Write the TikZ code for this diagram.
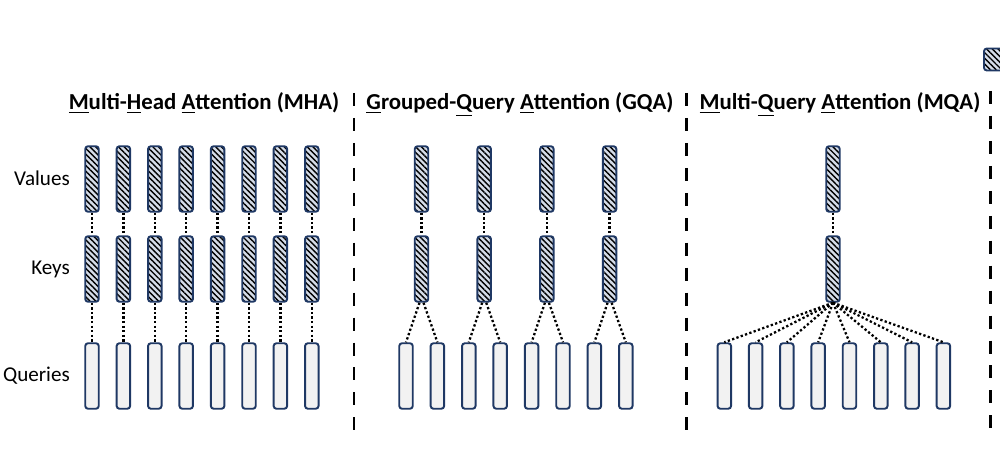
\documentclass[tikz,border=0pt]{standalone}
\usepackage{fontspec}
\setmainfont{Carlito}
\usetikzlibrary{patterns.meta}

\definecolor{boxline}{HTML}{1F3864}
\definecolor{hatchbg}{HTML}{D5DCE8}
\definecolor{qfill}{HTML}{F2F2F2}

\tikzset{
  headbox/.style={draw=boxline, line width=1.1pt, rounded corners=1.6pt,
    minimum width=2.7mm, minimum height=13.1mm, inner sep=0pt},
  kvbox/.style={headbox, preaction={fill=hatchbg},
    pattern={Lines[angle=-45,distance=2.3pt,line width=0.8pt]}, pattern color=black},
  qbox/.style={headbox, fill=qfill},
  link/.style={line width=1.3pt, dash pattern=on 1.3pt off 1.3pt},
  sepline/.style={line width=1.7pt, dash pattern=on 7.4pt off 6.8pt},
  title/.style={font=\bfseries\fontsize{13}{15}\selectfont, anchor=base},
  rowlabel/.style={font=\fontsize{12}{14}\selectfont, anchor=base east}
}

\begin{document}
\begin{tikzpicture}[x=0.2mm, y=-0.2mm]
  \useasboundingbox (0,0) rectangle (1000,457);
  \clip (0,0) rectangle (1000,457);

  % row labels
  \node[rowlabel] (lv) at (76,186) {Values};
  \node[rowlabel] (lk) at (76,275) {Keys};
  \node[rowlabel] (lq) at (76,381) {Queries};

  % titles
  \node[title] (tmha) at (204,110) {\underline{M}ulti-\underline{H}ead \underline{A}ttention (MHA)};
  \node[title] (tgqa) at (520,110) {\underline{G}rouped-\underline{Q}uery \underline{A}ttention (GQA)};
  \node[title] (tmqa) at (840,110) {\underline{M}ulti-\underline{Q}uery \underline{A}ttention (MQA)};

  % separators
  \coordinate (s1a) at (354,93);  \coordinate (s1b) at (354,432);
  \coordinate (s2a) at (686,93);  \coordinate (s2b) at (686,432);
  \coordinate (s3a) at (990,91);  \coordinate (s3b) at (990,432);
  \draw[sepline] (s1a) -- (s1b);
  \draw[sepline] (s2a) -- (s2b);
  \draw[sepline] (s3a) -- (s3b);

  % legend (cut off)
  \node[kvbox, minimum width=4.4mm, minimum height=4.4mm] (leg) at (995,59.5) {};

  % MHA
  \foreach \i in {1,...,8} {
    \node[kvbox] (mv\i) at ({92+31.4*(\i-1)},179) {};
    \node[kvbox] (mk\i) at ({92+31.4*(\i-1)},269) {};
    \node[qbox]  (mq\i) at ({92+31.4*(\i-1)},376) {};
    \draw[link] (mv\i.south) -- (mk\i.north);
    \draw[link] (mk\i.south) -- (mq\i.north);
  }

  % GQA
  \foreach \j in {1,...,4} {
    \node[kvbox] (gv\j) at ({421.5+62.7*(\j-1)},179) {};
    \node[kvbox] (gk\j) at ({421.5+62.7*(\j-1)},269) {};
    \draw[link] (gv\j.south) -- (gk\j.north);
  }
  \foreach \i in {1,...,8} {
    \node[qbox] (gq\i) at ({406+31.4*(\i-1)},376) {};
  }
  \foreach \j/\a/\b in {1/1/2, 2/3/4, 3/5/6, 4/7/8} {
    \draw[link] ([xshift=-0.4mm]gk\j.south) -- (gq\a.north);
    \draw[link] ([xshift=0.4mm]gk\j.south) -- (gq\b.north);
  }

  % MQA
  \node[kvbox] (qv) at (833,179) {};
  \node[kvbox] (qk) at (833,269) {};
  \draw[link] (qv.south) -- (qk.north);
  \foreach \i in {1,...,8} {
    \node[qbox] (qq\i) at ({724.3+31.3*(\i-1)},376) {};
    \draw[link] (qk.south) -- (qq\i.north);
  }
\end{tikzpicture}
\end{document}
